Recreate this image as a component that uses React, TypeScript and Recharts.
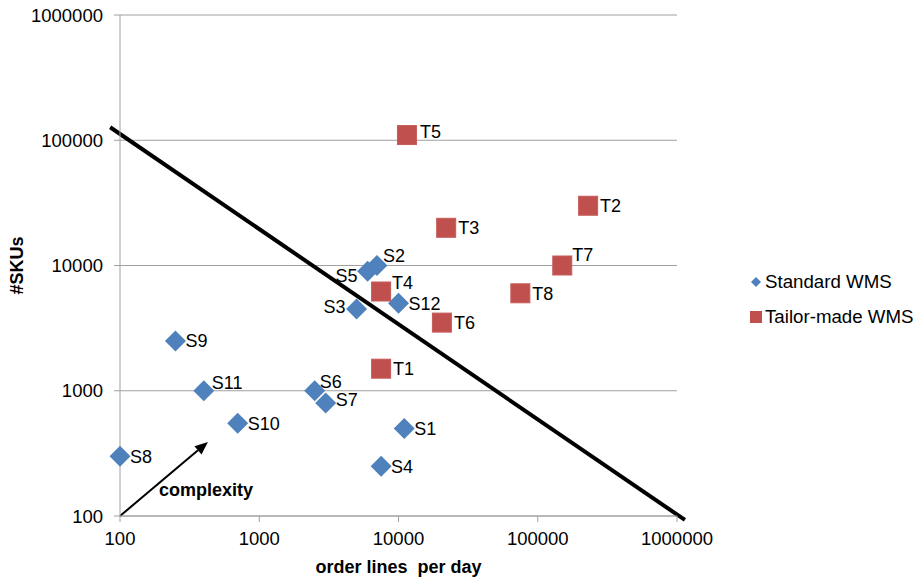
import React from 'react';
import {
  ScatterChart,
  Scatter,
  XAxis,
  YAxis,
  CartesianGrid,
  ReferenceLine,
  Legend,
} from 'recharts';

// Standard WMS installations: order lines per day vs. number of SKUs
const standardNames = ['S1', 'S2', 'S3', 'S4', 'S5', 'S6', 'S7', 'S8', 'S9', 'S10', 'S11', 'S12'];
const standardLines = [11000, 7000, 5000, 7500, 6000, 2500, 3000, 100, 250, 700, 400, 10000];
const standardSkus = [500, 10000, 4500, 250, 9000, 1000, 800, 300, 2500, 550, 1000, 5000];

// Tailor-made WMS installations
const tailorNames = ['T1', 'T2', 'T3', 'T4', 'T5', 'T6', 'T7', 'T8'];
const tailorLines = [7500, 230000, 22000, 7500, 11500, 20500, 150000, 75000];
const tailorSkus = [1500, 30000, 20000, 6200, 110000, 3500, 10000, 6000];

// Decade ticks for both logarithmic axes
const decadeTicks = [100, 1000, 10000, 100000, 1000000];

// Dividing line between the two groups (endpoints in data units)
const dividerStart = { x: 85, y: 127000 };
const dividerEnd = { x: 1140000, y: 93 };

// "complexity" arrow (endpoints in data units)
const arrowStart = { x: 100, y: 100 };
const arrowEnd = { x: 428, y: 390 };

const standardData = standardNames.map((name, i) => ({ name, x: standardLines[i], y: standardSkus[i] }));
const tailorData = tailorNames.map((name, i) => ({ name, x: tailorLines[i], y: tailorSkus[i] }));

const FONT = '"Liberation Sans", Arial, sans-serif';
const BLUE = '#4F81BD';
const RED = '#C0504D';
const GRID = '#A0A0A0';

// Label placement tweaks for crowded points
type Placement = { dx: number; dy: number; anchor?: 'start' | 'end' };
const labelPlacement: Record<string, Placement> = {
  S2: { dx: 6, dy: -10 },
  S3: { dx: -11, dy: -2, anchor: 'end' },
  S5: { dx: -10, dy: 4, anchor: 'end' },
  S6: { dx: 5, dy: -9 },
  S7: { dx: 10, dy: -3 },
  S11: { dx: 8, dy: -8 },
  T4: { dx: 11, dy: -9 },
  T5: { dx: 13, dy: -4 },
  T7: { dx: 10, dy: -11 },
};

const pointLabel = (cx: number, cy: number, name: string, defaultDx: number) => {
  const p = labelPlacement[name] || { dx: defaultDx, dy: 0 };
  return (
    <text
      x={cx + p.dx}
      y={cy + p.dy + 6.5}
      textAnchor={p.anchor || 'start'}
      fontFamily={FONT}
      fontSize={18}
      fill="#000"
    >
      {name}
    </text>
  );
};

const DiamondPoint = (props: any) => {
  const { cx, cy, payload } = props;
  const r = 10.5;
  return (
    <g>
      <polygon
        points={`${cx},${cy - r} ${cx + r},${cy} ${cx},${cy + r} ${cx - r},${cy}`}
        fill={BLUE}
      />
      {pointLabel(cx, cy, payload.name, 10)}
    </g>
  );
};

const SquarePoint = (props: any) => {
  const { cx, cy, payload } = props;
  const h = 9.5;
  return (
    <g>
      <rect x={cx - h} y={cy - h} width={2 * h} height={2 * h} fill={RED} stroke="#C65C59" strokeWidth={1} />
      {pointLabel(cx, cy, payload.name, 12)}
    </g>
  );
};

const ArrowShape = (props: any) => {
  const { x1, y1, x2, y2 } = props;
  const ang = Math.atan2(y2 - y1, x2 - x1);
  const len = 13;
  const half = 5.5;
  const bx = x2 - len * Math.cos(ang);
  const by = y2 - len * Math.sin(ang);
  const px = -Math.sin(ang);
  const py = Math.cos(ang);
  return (
    <g>
      <line x1={x1} y1={y1} x2={bx} y2={by} stroke="#000" strokeWidth={2} />
      <polygon
        points={`${x2},${y2} ${bx + px * half},${by + py * half} ${bx - px * half},${by - py * half}`}
        fill="#000"
      />
      <text x={x1 + 86} y={y1 - 20} textAnchor="middle" fontFamily={FONT} fontSize={18} fontWeight="bold" fill="#000">
        complexity
      </text>
    </g>
  );
};

const LegendContent = (props: any) => {
  const { payload } = props;
  return (
    <div style={{ fontFamily: FONT, fontSize: 18.7, color: '#000' }}>
      {(payload || []).map((item: any) => (
        <div key={item.value} style={{ display: 'flex', alignItems: 'center', height: 35, whiteSpace: 'nowrap' }}>
          <svg width={14} height={14} style={{ marginRight: 2 }}>
            {item.value === 'Standard WMS' ? (
              <polygon points="7,2 12,7 7,12 2,7" fill={BLUE} />
            ) : (
              <rect x={1} y={1} width={12} height={12} fill={RED} />
            )}
          </svg>
          <span>{item.value}</span>
        </div>
      ))}
    </div>
  );
};

const YTitle = (props: any) => {
  const { viewBox } = props;
  const cy = viewBox.y + viewBox.height / 2;
  const x = viewBox.x + 23;
  return (
    <text
      x={x}
      y={cy}
      transform={`rotate(-90, ${x}, ${cy})`}
      textAnchor="middle"
      fontFamily={FONT}
      fontSize={18}
      fontWeight="bold"
      fill="#000"
    >
      #SKUs
    </text>
  );
};

const XTitle = (props: any) => {
  const { viewBox } = props;
  const cx = viewBox.x + viewBox.width / 2;
  return (
    <text
      x={cx}
      y={viewBox.y + 57}
      textAnchor="middle"
      fontFamily={FONT}
      fontSize={18}
      fontWeight="bold"
      fill="#000"
      style={{ whiteSpace: 'pre' }}
      xmlSpace="preserve"
    >
      {'order lines  per day'}
    </text>
  );
};

export default function App() {
  return (
    <div style={{ position: 'absolute', left: 0, top: 0, width: 920, height: 580, background: '#fff' }}>
      <ScatterChart
        width={920}
        height={580}
        margin={{ top: 15, right: 243, bottom: 0, left: 0 }}
        style={{ fontFamily: FONT }}
      >
        <CartesianGrid horizontal vertical={false} stroke={GRID} strokeWidth={1} />
        <XAxis
          type="number"
          dataKey="x"
          scale="log"
          domain={[100, 1000000]}
          ticks={decadeTicks}
          height={64}
          tickSize={6}
          tickMargin={10}
          stroke={GRID}
          tick={{ fontSize: 18.5, fill: '#000', fontFamily: FONT }}
          label={<XTitle />}
        />
        <YAxis
          type="number"
          dataKey="y"
          scale="log"
          domain={[100, 1000000]}
          ticks={decadeTicks}
          width={120}
          tickSize={6}
          tickMargin={11}
          stroke={GRID}
          tick={{ fontSize: 18.5, fill: '#000', fontFamily: FONT }}
          label={<YTitle />}
        />
        <Scatter
          name="Standard WMS"
          data={standardData}
          fill={BLUE}
          shape={DiamondPoint}
          isAnimationActive={false}
        />
        <Scatter
          name="Tailor-made WMS"
          data={tailorData}
          fill={RED}
          shape={SquarePoint}
          isAnimationActive={false}
        />
        <ReferenceLine
          segment={[dividerStart, dividerEnd]}
          stroke="#000"
          strokeWidth={4}
          ifOverflow="visible"
        />
        <ReferenceLine
          segment={[arrowStart, arrowEnd]}
          stroke="#000"
          strokeWidth={2}
          ifOverflow="visible"
          shape={ArrowShape}
        />
        <Legend
          layout="vertical"
          align="center"
          verticalAlign="middle"
          content={LegendContent}
          wrapperStyle={{ left: 749, top: 264.5, width: 171 }}
        />
      </ScatterChart>
    </div>
  );
}
